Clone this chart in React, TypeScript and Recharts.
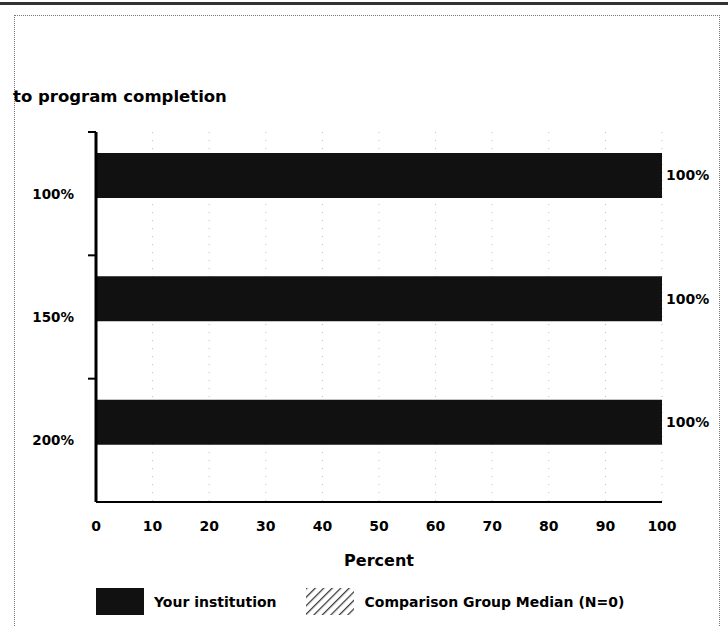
import React from "react";
import {
  BarChart,
  Bar,
  XAxis,
  YAxis,
  CartesianGrid,
  Legend,
  LabelList,
} from "recharts";

// graduation rate categories (share of normal time to program completion)
const categories = ["100%", "150%", "200%"];
const institutionValues = [100, 100, 100];
// N=0: no comparison group data
const comparisonValues = [0, 0, 0];
const xTicks = [0, 10, 20, 30, 40, 50, 60, 70, 80, 90, 100];

const seriesNames = {
  institution: "Your institution",
  comparison: "Comparison Group Median (N=0)",
};

const data = categories.map((category, i) => ({
  category,
  institution: institutionValues[i],
  comparison: comparisonValues[i],
}));

const W = 728;
const H = 626;
const MARGIN = { top: 132, right: 66, bottom: 54, left: 26 };
const X_AXIS_HEIGHT = 70;
const FONT = "'DejaVu Sans', 'Liberation Sans', Arial, sans-serif";
const BAND = (H - MARGIN.top - MARGIN.bottom - X_AXIS_HEIGHT) / categories.length;

function CategoryTick(props: any) {
  const { x, y, payload } = props;
  const lineY = y - BAND / 2;
  return (
    <g>
      <line x1={x + 14} x2={x + 22} y1={lineY} y2={lineY} stroke="#000" strokeWidth={2} />
      <text
        x={x}
        y={y}
        dy="0.36em"
        textAnchor="end"
        fontFamily={FONT}
        fontSize={13.5}
        fontWeight="bold"
        fill="#000"
      >
        {payload.value}
      </text>
    </g>
  );
}

function LegendContent() {
  const textStyle: React.CSSProperties = {
    fontFamily: FONT,
    fontSize: 14,
    fontWeight: "bold",
    color: "#000",
    whiteSpace: "nowrap",
  };
  return (
    <div style={{ display: "flex", alignItems: "center" }}>
      <div style={{ width: 48, height: 27, background: "#111" }} />
      <span style={{ ...textStyle, marginLeft: 10 }}>{seriesNames.institution}</span>
      <svg width={48} height={27} style={{ marginLeft: 29 }}>
        <defs>
          <pattern id="hatch" width="6" height="6" patternUnits="userSpaceOnUse" patternTransform="rotate(45)">
            <rect width="6" height="6" fill="#fff" />
            <line x1="0" y1="0" x2="0" y2="6" stroke="#333" strokeWidth="2.5" />
          </pattern>
        </defs>
        <rect width={48} height={27} fill="url(#hatch)" />
      </svg>
      <span style={{ ...textStyle, marginLeft: 11 }}>{seriesNames.comparison}</span>
    </div>
  );
}

export default function App() {
  return (
    <div
      style={{
        position: "absolute",
        left: 0,
        top: 0,
        width: W,
        height: H,
        background: "#fff",
        overflow: "hidden",
      }}
    >
      {/* scanned page frame */}
      <div style={{ position: "absolute", left: 0, top: 2, width: W, height: 3, background: "#333" }} />
      <div
        style={{
          position: "absolute",
          left: 14,
          top: 15,
          width: 704,
          height: H,
          borderTop: "1px dotted #777",
          borderLeft: "1px dotted #777",
          borderRight: "1px dotted #777",
        }}
      />
      <div
        style={{
          position: "absolute",
          left: 13,
          top: 88,
          fontFamily: FONT,
          fontSize: 16.5,
          fontWeight: "bold",
          lineHeight: "18px",
          color: "#000",
        }}
      >
        to program completion
      </div>
      <BarChart
        width={W}
        height={H}
        data={data}
        layout="vertical"
        margin={MARGIN}
        barSize={45}
        barGap={-9}
      >
        <CartesianGrid horizontal={false} stroke="#bbb" strokeDasharray="1 7" />
        <XAxis
          type="number"
          domain={[0, 100]}
          ticks={xTicks}
          interval={0}
          height={X_AXIS_HEIGHT}
          tickLine={false}
          tickSize={6}
          tickMargin={13}
          axisLine={{ stroke: "#000", strokeWidth: 2 }}
          tick={{ fill: "#000", fontSize: 14, fontWeight: "bold", fontFamily: FONT }}
          label={{
            value: "Percent",
            position: "insideBottom",
            offset: 6,
            fill: "#000",
            fontSize: 16,
            fontWeight: "bold",
            fontFamily: FONT,
          }}
        />
        <YAxis
          type="category"
          dataKey="category"
          width={70}
          tickLine={false}
          tickSize={8}
          tickMargin={14}
          axisLine={{ stroke: "#000", strokeWidth: 3 }}
          tick={<CategoryTick />}
        />
        <Legend
          layout="horizontal"
          verticalAlign="middle"
          align="center"
          content={<LegendContent />}
          wrapperStyle={{ position: "absolute", left: 96, top: 588, width: "auto" }}
        />
        <Bar dataKey="institution" name={seriesNames.institution} fill="#111" isAnimationActive={false}>
          <LabelList
            dataKey="institution"
            position="right"
            offset={4}
            formatter={(v: any) => `${v}%`}
            fill="#000"
            fontSize={14}
            fontWeight="bold"
            fontFamily={FONT}
          />
        </Bar>
        <Bar dataKey="comparison" name={seriesNames.comparison} fill="url(#hatch)" isAnimationActive={false} />
      </BarChart>
    </div>
  );
}
